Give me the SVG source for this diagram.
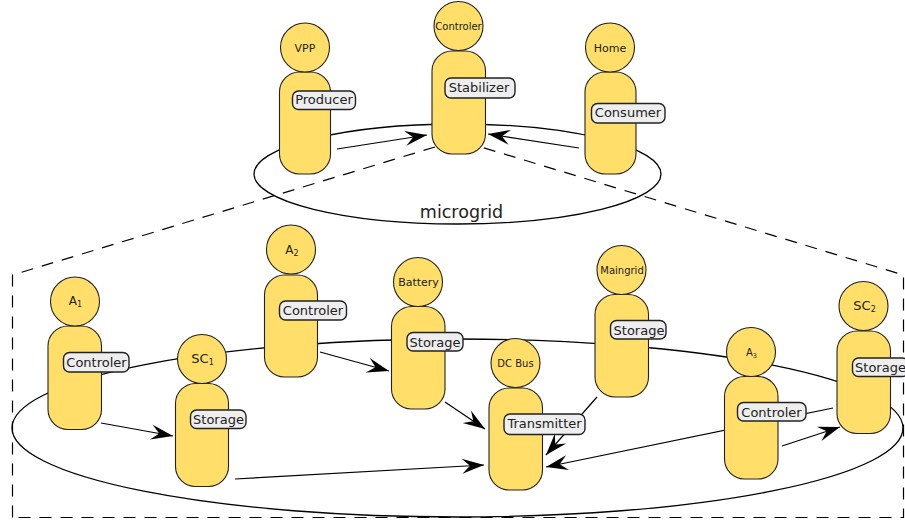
<svg xmlns="http://www.w3.org/2000/svg" width="905" height="520" viewBox="0 0 905 520">
<style>
.ell{fill:none;stroke:#000;stroke-width:1.3}
.dash{fill:none;stroke:#000;stroke-width:1.2;stroke-dasharray:12 9}
.arr{fill:none;stroke:#000;stroke-width:1.2;marker-end:url(#ah)}
.head,.body{fill:#ffdf69;stroke:#222;stroke-width:1.1}
.lab{fill:#eee;stroke:#222;stroke-width:1.4}
text{font-family:"DejaVu Sans",sans-serif;fill:#222;text-anchor:middle}
.l{font-size:13px}
.h{font-size:11px}
.s{font-size:10px}
.sub{font-size:8px}
</style>
<defs>
<marker id="ah" markerUnits="userSpaceOnUse" markerWidth="26" markerHeight="18" refX="22" refY="8" orient="auto" overflow="visible">
<path d="M22 8 L0 0.5 L8 8 L0 15.5 Z" fill="#000"/>
</marker>
</defs>
<g id="background">
<ellipse class="ell" cx="457.5" cy="174" rx="203.5" ry="50"/>
<ellipse class="ell" cx="457.5" cy="428" rx="445.5" ry="89"/>
<path class="dash" d="M12.5 517.5V275L458 140L903.5 275V517.5Z"/>
<text x="461.5" y="218" style="font-size:17.5px">microgrid</text>
</g>
<g id="connectors">
<path class="arr" d="M337 149L427 135"/>
<path class="arr" d="M579 148L488 134"/>
<path class="arr" d="M101 423L173 436"/>
<path class="arr" d="M235 479L484 465"/>
<path class="arr" d="M320 352L389 371"/>
<path class="arr" d="M445 402L485 429"/>
<path class="arr" d="M597 397L546 455"/>
<path class="arr" d="M833 408L546 467"/>
<path class="arr" d="M782 446L840 427"/>
</g>
<g id="vpp"><rect class="body" x="279.5" y="72" width="51" height="102" rx="20"/><circle class="head" cx="305" cy="47.5" r="24.5"/><text class="h" x="305" y="52">VPP</text><rect class="lab" x="292.5" y="91" width="63" height="18.5" rx="6"/><text class="l" x="324" y="104">Producer</text></g>
<g id="stabilizer"><rect class="body" x="432" y="51" width="53.5" height="103" rx="20"/><circle class="head" cx="458.5" cy="26" r="24.5"/><text class="s" x="458.5" y="30">Controler</text><rect class="lab" x="445" y="78" width="70" height="20" rx="6"/><text class="l" x="479" y="92">Stabilizer</text></g>
<g id="home"><rect class="body" x="585" y="72" width="51" height="102" rx="20"/><circle class="head" cx="610" cy="47.5" r="24.5"/><text class="h" x="610" y="52">Home</text><rect class="lab" x="591.5" y="103.5" width="73.5" height="19.5" rx="6"/><text class="l" x="628" y="117">Consumer</text></g>
<g id="a1"><rect class="body" x="48" y="326" width="53.5" height="103.5" rx="20"/><circle class="head" cx="75" cy="301.5" r="24.5"/><text style="font-size:12px" x="75.5" y="305">A<tspan class="sub" dy="2">1</tspan></text><rect class="lab" x="63.5" y="352.5" width="65.5" height="19.5" rx="6"/><text class="l" x="96.5" y="367">Controler</text></g>
<g id="sc1"><rect class="body" x="175.5" y="383.5" width="53" height="103" rx="20"/><circle class="head" cx="202" cy="359" r="24.5"/><text class="l" x="202.5" y="362.5">SC<tspan class="sub" dy="2">1</tspan></text><rect class="lab" x="190.5" y="410" width="55.5" height="18.5" rx="6"/><text class="l" x="218.5" y="424">Storage</text></g>
<g id="a2"><rect class="body" x="264.5" y="275" width="53" height="102" rx="20"/><circle class="head" cx="291" cy="249.5" r="24.5"/><text style="font-size:12px" x="292" y="254">A<tspan class="sub" dy="2">2</tspan></text><rect class="lab" x="279.5" y="301" width="67" height="19" rx="6"/><text class="l" x="313" y="315">Controler</text></g>
<g id="battery"><rect class="body" x="391.5" y="306.5" width="53.5" height="102.5" rx="20"/><circle class="head" cx="418" cy="282" r="24.5"/><text x="418.5" y="286" style="font-size:11px">Battery</text><rect class="lab" x="407" y="332.5" width="56" height="18.5" rx="6"/><text class="l" x="435" y="347">Storage</text></g>
<g id="dcbus"><rect class="body" x="489" y="388" width="53.5" height="102" rx="20"/><circle class="head" cx="515.5" cy="363" r="24.5"/><text class="s" x="515.5" y="366.5">DC Bus</text><rect class="lab" x="504" y="414" width="81" height="20.5" rx="6"/><text class="l" x="544.5" y="428">Transmitter</text></g>
<g id="maingrid"><rect class="body" x="595" y="294.5" width="53.5" height="102.5" rx="20"/><circle class="head" cx="621.5" cy="270" r="24.5"/><text class="s" x="622" y="274">Maingrid</text><rect class="lab" x="610.5" y="320.5" width="55.5" height="18.5" rx="6"/><text class="l" x="639" y="335">Storage</text></g>
<g id="a3"><rect class="body" x="724.5" y="376.5" width="53.5" height="102.5" rx="20"/><circle class="head" cx="751" cy="352" r="24.5"/><text class="s" x="751.5" y="355.5">A<tspan style="font-size:6.5px" dy="2">3</tspan></text><rect class="lab" x="737.5" y="402.5" width="68.5" height="18.5" rx="6"/><text class="l" x="771.5" y="417">Controler</text></g>
<g id="sc2"><rect class="body" x="837" y="331" width="53.5" height="102.5" rx="20"/><circle class="head" cx="863.5" cy="306" r="24.5"/><text class="l" x="864.5" y="309.5">SC<tspan class="sub" dy="2">2</tspan></text><rect class="lab" x="852.5" y="358" width="56" height="18.5" rx="6"/><text class="l" x="880.5" y="371.5">Storage</text></g>
</svg>
